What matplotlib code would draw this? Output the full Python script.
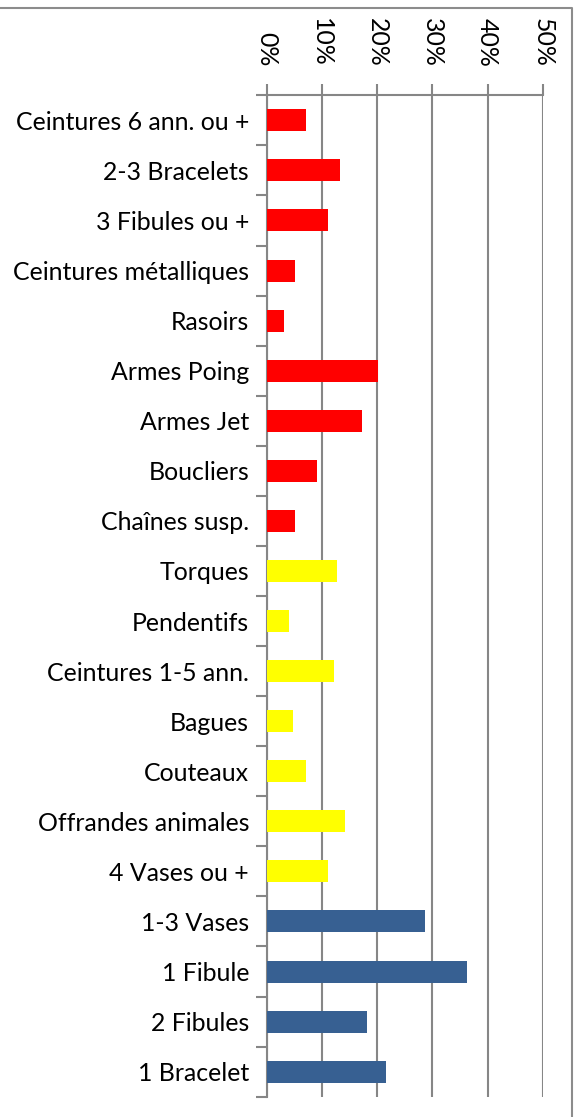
import matplotlib
matplotlib.use("Agg")
import matplotlib.pyplot as plt
from matplotlib.lines import Line2D
from matplotlib.ticker import FuncFormatter

# Grave goods, share of graves (%) — listed top to bottom
categories = [
    "Ceintures 6 ann. ou +", "2-3 Bracelets", "3 Fibules ou +",
    "Ceintures métalliques", "Rasoirs", "Armes Poing", "Armes Jet",
    "Boucliers", "Chaînes susp.", "Torques", "Pendentifs",
    "Ceintures 1-5 ann.", "Bagues", "Couteaux", "Offrandes animales",
    "4 Vases ou +", "1-3 Vases", "1 Fibule", "2 Fibules", "1 Bracelet",
]
values = [
    7.1, 13.2, 11.1, 5.2, 3.1, 20.2, 17.2, 9.2, 5.2,
    12.7, 4.1, 12.2, 4.7, 7.1, 14.2, 11.1,
    28.7, 36.3, 18.2, 21.7,
]
groups = ["rich"] * 9 + ["middle"] * 7 + ["common"] * 4
group_colors = {"rich": "#FF0000", "middle": "#FFFF00", "common": "#376092"}
x_ticks = [0, 10, 20, 30, 40, 50]

plt.rcParams["font.family"] = ["Lato", "DejaVu Sans"]
grey = "#868686"
label_size = 17.9

fig = plt.figure(figsize=(5.82, 11.17), dpi=100)
ax = fig.add_axes([266.7 / 582, 1 - 1096.7 / 1117, 276.0 / 582, 1001.4 / 1117])

pos = list(range(len(categories)))
ax.barh(pos, values, height=0.44, color=[group_colors[g] for g in groups],
        zorder=3)

ax.set_ylim(len(categories) - 0.5, -0.5)
ax.set_xlim(0, 50)

# category labels on the left, boundary ticks between categories
ax.set_yticks(pos)
ax.set_yticklabels(categories, fontsize=label_size, color="#000000")
ax.set_yticks([p - 0.5 for p in pos] + [len(pos) - 0.5], minor=True)
ax.tick_params(axis="y", which="major", length=0, pad=12.7)
ax.tick_params(axis="y", which="minor", length=8, width=1.5, color=grey,
               direction="out")

# percentage axis along the top, labels turned on their side
ax.xaxis.tick_top()
ax.set_xticks(x_ticks)
ax.xaxis.set_major_formatter(FuncFormatter(lambda v, _: f"{v:.0f}%"))
ax.tick_params(axis="x", which="major", length=8, width=1.5, color=grey,
               direction="out", pad=12.7, labelsize=label_size,
               labelrotation=-90)
for lbl in ax.get_xticklabels():
    lbl.set_verticalalignment("bottom")

ax.grid(axis="x", color=grey, linewidth=1.5, zorder=0)
ax.grid(axis="y", visible=False)

for side in ("right", "bottom"):
    ax.spines[side].set_visible(False)
for side in ("left", "top"):
    ax.spines[side].set_color(grey)
    ax.spines[side].set_linewidth(1.5)
ax.set_axisbelow(True)

# chart frame (top and right edges)
fig.add_artist(Line2D([0, 572 / 582, 572 / 582], [1 - 8 / 1117, 1 - 8 / 1117, 0],
                      transform=fig.transFigure, color="#8C8C8C", linewidth=1.5))

fig.savefig("out.png", dpi=100)
